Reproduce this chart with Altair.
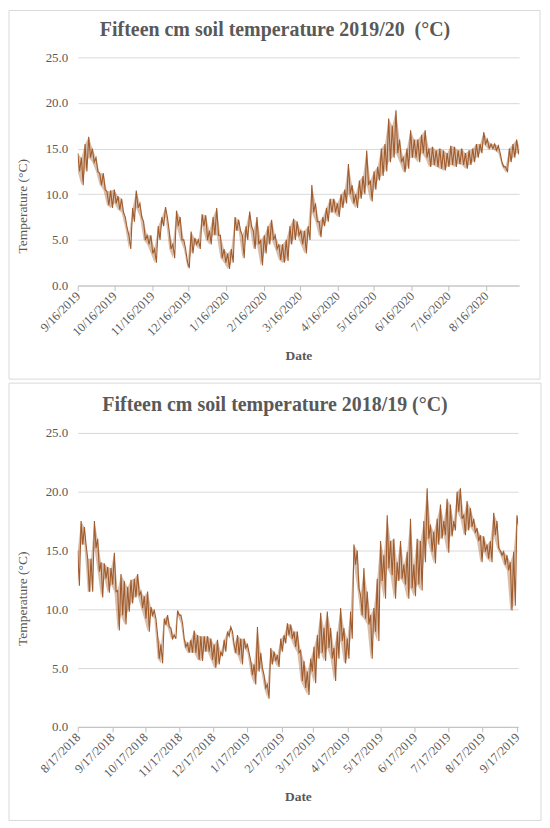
import altair as alt
import pandas as pd

# ---------------- data (3-day steps: daily high / low) -------------
top_title = "Fifteen cm soil temperature 2019/20 \u00a0(°C)"
top_start = "2019-09-16"
top_hi = [14.5, 14, 15.5, 16.3, 15, 14, 12.3, 12.3, 10.3, 10.4,
          10.5, 9.8, 9.5, 7.5, 5.5, 8.5, 10.4, 9, 7, 5.5,
          5.5, 4, 6.5, 7.5, 8.6, 6, 4.5, 8.2, 7.5, 5,
          2.6, 5.9, 5.2, 5, 7.8, 7.7, 6, 7.5, 8.5, 5.5,
          4, 3.5, 4, 7.5, 7.2, 5.5, 6.5, 8.1, 6, 7.5,
          5, 5.5, 6.5, 7.2, 5.5, 4.5, 4.5, 5, 6.5, 7.3,
          7, 6, 6, 6.5, 11, 9, 7, 7.5, 8.5, 9.5,
          9.5, 9, 10, 10.5, 13.3, 11, 10, 11.5, 12, 14.8,
          11.5, 12.5, 13, 15, 15.5, 18.3, 17.5, 19.2, 16, 14,
          15, 17, 16, 16, 16.5, 17, 15, 15.2, 14.8, 15,
          14.8, 14.5, 15.3, 15.2, 14.8, 15, 14.5, 14.8, 15, 15.5,
          15.5, 16.8, 16, 15.5, 15.5, 15.3, 13.5, 13, 15, 15.5,
          16, 15]
top_lo = [12.5, 11, 12.5, 14, 13.5, 12.5, 11, 10.5, 8.8, 8.5,
          9, 8.3, 8, 6.3, 4, 7, 8.5, 7.5, 5, 4.5,
          3.5, 2.5, 5, 6.5, 7.5, 4, 3, 6.5, 5, 4,
          1.9, 3.5, 4.5, 4, 6.5, 5, 4.5, 5.5, 5.5, 3,
          2.5, 1.8, 2.5, 6, 6, 3, 5, 6.5, 4, 4.5,
          2.2, 3.5, 4.5, 5, 4, 2.8, 2.5, 2.7, 4.5, 5,
          5.5, 4.5, 3.5, 5, 8, 7, 5.3, 6.5, 7, 8,
          8, 7.5, 8.5, 9, 10, 9, 8.5, 9.5, 10, 11,
          9.2, 10.5, 11.5, 12, 12.5, 13.5, 14, 14.5, 13.5, 12.4,
          12.8, 14, 14, 13.5, 14.5, 14, 13, 13.2, 13, 12.8,
          12.6, 13, 13.2, 13, 13.3, 13.2, 12.8, 13.2, 13.5, 14,
          14.5, 15.5, 15, 15, 14.8, 14.5, 13, 12.4, 13.5, 14,
          14.5, 14.5]
top_ticks = ["2019-09-16", "2019-10-16", "2019-11-16", "2019-12-16", "2020-01-16",
             "2020-02-16", "2020-03-16", "2020-04-16", "2020-05-16", "2020-06-16",
             "2020-07-16", "2020-08-16"]
top_range = ["2019-09-16", "2020-09-12"]

bot_title = "Fifteen cm soil temperature 2018/19 (°C)"
bot_start = "2018-08-17"
bot_hi = [15, 17.5, 17, 14.3, 14.3, 17.5, 16, 14, 13.9, 13.6,
          13.5, 14.8, 11.6, 13, 12.4, 11.9, 12.5, 12.6, 13, 11.5,
          11.1, 11.5, 10.2, 9.9, 7.8, 7, 9.2, 9.5, 8.4, 7.8,
          9.9, 9.5, 7.5, 7.1, 7.4, 8.2, 7.8, 7.7, 7.7, 7.7,
          7.5, 7, 7.4, 6.4, 7.4, 8.1, 8.5, 7, 7.8, 7.5,
          7.5, 7, 5.6, 5.3, 8.5, 6.3, 4.4, 3.6, 6.7, 6.4,
          6.1, 7.5, 7.8, 8.8, 8.7, 8.1, 8.1, 6.5, 5.6, 4.7,
          5.8, 6.8, 7.8, 9.7, 8.4, 9.8, 8.4, 6.7, 8.1, 10.1,
          8.4, 7.5, 9.8, 15.5, 15, 11.2, 13.5, 11.5, 9.5, 10.1,
          12.6, 15.8, 14.6, 18, 15.8, 16, 14, 15.8, 13.8, 14.9,
          17.7, 13.8, 16, 15.8, 17.5, 20.3, 17.2, 16.6, 17.7, 18.9,
          17.5, 19.4, 18.9, 17.5, 20, 20.3, 18, 19.2, 18.6, 17.7,
          16.9, 16.3, 16.2, 15.5, 15.8, 18.2, 17.5, 15, 14.9, 14.6,
          14, 14.9, 18]
bot_lo = [12, 15.5, 15.5, 11.5, 11.5, 15.2, 13.2, 11, 12.6, 11.4,
          12.1, 11.5, 8.2, 9.5, 8.7, 9.8, 10.5, 11, 11.2, 10.1,
          9.2, 8.1, 9.5, 9.2, 5.8, 5.4, 8.7, 8.5, 7.5, 7.5,
          9.5, 8.8, 6.8, 6.3, 6.3, 6.3, 5.7, 5.6, 6.4, 6.4,
          5.7, 5, 5.3, 6, 6.4, 7.7, 8.1, 6.3, 6.1, 5.3,
          6.7, 6.3, 4.4, 3.6, 4.7, 5, 3.3, 2.4, 5.3, 5.6,
          5.1, 6.4, 7.1, 7.8, 7.5, 6.8, 6.3, 3.9, 3.3, 2.7,
          4.7, 3.7, 5.8, 6.3, 5.6, 6.7, 5.8, 3.9, 5.8, 7.3,
          5.4, 5.8, 7.5, 13.8, 11.8, 9.5, 9.2, 8.7, 5.8, 8.1,
          7.3, 12.4, 10.9, 13.5, 12.9, 10.9, 12.4, 12.6, 12.1, 10.9,
          11.8, 11.1, 12.1, 11.6, 14, 16, 14.9, 13.9, 15.5, 16,
          16.3, 14.8, 16.2, 16.7, 18.3, 17.7, 16.3, 16.7, 17, 16.5,
          15.8, 14, 14.9, 14.3, 14, 16.3, 15.2, 14.6, 13.8, 13.3,
          9.9, 10.3, 17]
bot_ticks = ["2018-08-17", "2018-09-17", "2018-10-17", "2018-11-17", "2018-12-17",
             "2019-01-17", "2019-02-17", "2019-03-17", "2019-04-17", "2019-05-17",
             "2019-06-17", "2019-07-17", "2019-08-17", "2019-09-17"]
bot_range = ["2018-08-17", "2019-09-18"]

y_ticks = [0, 5, 10, 15, 20, 25]

LINE = "#A05C2E"
GRID = "#D9D9D9"
TEXT = "#595959"
FONT = "Liberation Serif"


def series(start, hi, lo):
    t0 = pd.Timestamp(start)
    rows = []
    for i, (h, l) in enumerate(zip(hi, lo)):
        rows.append({"date": t0 + pd.Timedelta(hours=72 * i), "temp": h})
        rows.append({"date": t0 + pd.Timedelta(hours=72 * i + 36), "temp": l})
    return pd.DataFrame(rows)


def band(start, hi, lo):
    t0 = pd.Timestamp(start)
    return pd.DataFrame({"date": [t0 + pd.Timedelta(hours=72 * i) for i in range(len(hi))],
                         "hi": hi, "lo": lo})


def dt(s):
    y, m, d = (int(v) for v in s.split("-"))
    return alt.DateTime(year=y, month=m, date=d)


def panel(start, hi, lo, title, ticks, rng, w, h, frame, title_y, ytitle_y):
    xs = alt.Scale(domain=[dt(rng[0]), dt(rng[1])])
    ys = alt.Scale(domain=[0, 25], nice=False, zero=True)
    xaxis = alt.Axis(values=[dt(t) for t in ticks], format="%-m/%-d/%Y",
                     labelAngle=-45, labelAlign="right", labelBaseline="middle",
                     labelPadding=3, labelFontSize=12.5, grid=False, tickSize=5,
                     tickColor="#BFBFBF", domainColor="#BFBFBF", title="Date",
                     titleFontWeight="bold", titleFontSize=13.5, titlePadding=10,
                     labelOverlap=False)
    yaxis = alt.Axis(values=y_ticks, format=".1f", ticks=False, domain=False,
                     grid=True, gridColor=GRID, labelPadding=10, labelFontSize=13,
                     title="Temperature (°C)", titleFontWeight="normal",
                     titleFontSize=13.5, titleX=-55, titleY=ytitle_y,
                     titleAlign="center", titleBaseline="middle", titleAngle=270)
    x = alt.X("date:T", scale=xs, axis=xaxis)
    line = alt.Chart(series(start, hi, lo)).mark_line(
        color=LINE, strokeWidth=1.1, clip=True).encode(
        x=x, y=alt.Y("temp:Q", scale=ys, axis=yaxis))
    area = alt.Chart(band(start, hi, lo)).mark_area(
        color=LINE, opacity=0.4, clip=True).encode(
        x=x, y=alt.Y("lo:Q", scale=ys, axis=yaxis), y2="hi:Q")
    box = alt.Chart(pd.DataFrame({"k": [0]})).mark_rect(
        fillOpacity=0, stroke=GRID, strokeWidth=1).encode(
        x=alt.value(frame[0]), x2=alt.value(frame[1]),
        y=alt.value(frame[2]), y2=alt.value(frame[3]))
    ttl = alt.Chart(pd.DataFrame({"t": [title]})).mark_text(
        font=FONT, fontSize=20, fontWeight="bold", color=TEXT,
        align="center", baseline="middle").encode(
        text="t:N", x=alt.value(198), y=alt.value(title_y))
    return alt.layer(box, line, area, ttl).properties(width=w, height=h)


top = panel(top_start, top_hi, top_lo, top_title, top_ticks, top_range,
            443, 229, (-69, 464, -47, 323), -27, 149)
bot = panel(bot_start, bot_hi, bot_lo, bot_title, bot_ticks, bot_range,
            442, 295, (-69, 465, -50, 389), -28, 166)

chart = alt.vconcat(top, bot, spacing=2).properties(
    padding=0, background="white").configure_view(
    strokeWidth=0).configure_axis(
    labelFont=FONT, titleFont=FONT, labelColor=TEXT, titleColor=TEXT)

chart.save("out.html", embed_options={"renderer": "svg", "actions": False})
